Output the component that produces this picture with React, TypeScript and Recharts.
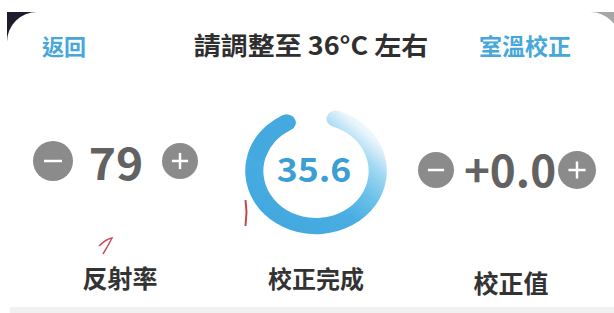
import { RadialBarChart, RadialBar, PolarAngleAxis } from 'recharts';

// calibration screen values
const headerLabels = ['返回', '請調整至 36°C 左右', '室溫校正'];
const reflectivity = 79;
const measuredTemp = 35.6;
const offsetValue = '+0.0';
const bottomLabels = ['反射率', '校正完成', '校正值'];
// ring: full progress, with the solid head segment drawn on top
const progress = [{ name: '校正完成', value: 100 }];
const headSegment = [{ name: 'head', value: 18 }];

const FONT = '"Noto Sans CJK TC", "Noto Sans", sans-serif';
const BLUE = '#46a7da';

function Txt({ x, y, size, color, weight = 700, sx = 1, children }: any) {
  return (
    <div
      style={{
        position: 'absolute',
        left: x,
        top: y,
        transform: `translate(-50%, -50%) scaleX(${sx})`,
        fontFamily: FONT,
        fontSize: size,
        fontWeight: weight,
        color,
        whiteSpace: 'nowrap',
        lineHeight: 1,
      }}
    >
      {children}
    </div>
  );
}

function RoundBtn({ x, y, r, plus }: { x: number; y: number; r: number; plus?: boolean }) {
  return (
    <svg
      width={r * 2}
      height={r * 2}
      style={{ position: 'absolute', left: x - r, top: y - r }}
    >
      <circle cx={r} cy={r} r={r} fill="#8b8b8b" />
      <line x1={r - r * 0.45} y1={r} x2={r + r * 0.45} y2={r} stroke="#fff" strokeWidth={2.5} />
      {plus && <line x1={r} y1={r - r * 0.45} x2={r} y2={r + r * 0.45} stroke="#fff" strokeWidth={2.5} />}
    </svg>
  );
}

function Ring({ data, fill }: { data: any[]; fill: string }) {
  return (
    <div
      style={{
        position: 'absolute',
        left: 316 - 65,
        top: 171 - 65,
        width: 130,
        height: 130,
        transform: 'scaleX(1.12)',
        transformOrigin: 'center',
      }}
    >
      <RadialBarChart
        width={130}
        height={130}
        cx={65}
        cy={65}
        innerRadius={46}
        outerRadius={64}
        barSize={18}
        data={data}
        startAngle={110}
        endAngle={440}
        margin={{ top: 0, right: 0, bottom: 0, left: 0 }}
      >
        <defs>
          <linearGradient id="ringGrad" x1="0" y1="1" x2="1" y2="0">
            <stop offset="0%" stopColor="#3ea5dd" />
            <stop offset="45%" stopColor="#4aaee2" />
            <stop offset="60%" stopColor="#6ec2ea" />
            <stop offset="73%" stopColor="#a3d9f2" />
            <stop offset="84%" stopColor="#eaf6fc" />
            <stop offset="100%" stopColor="#ffffff" />
          </linearGradient>
        </defs>
        <PolarAngleAxis type="number" domain={[0, 100]} tick={false} axisLine={false} />
        <RadialBar dataKey="value" fill={fill} cornerRadius={9} isAnimationActive={false} />
      </RadialBarChart>
    </div>
  );
}

export default function App() {
  return (
    <div
      style={{
        position: 'absolute',
        left: 0,
        top: 0,
        width: 614,
        height: 313,
        overflow: 'hidden',
        background: '#ffffff',
      }}
    >
      {/* device frame corners */}
      <div style={{ position: 'absolute', left: 7, top: 12, width: 50, height: 50, background: '#1d1c2c' }} />
      <div style={{ position: 'absolute', left: 585, top: 12, width: 40, height: 40, background: '#a6a6a6' }} />
      <div
        style={{
          position: 'absolute',
          left: 7,
          top: 12,
          width: 613,
          height: 340,
          borderRadius: 30,
          background: '#ffffff',
        }}
      />
      <div style={{ position: 'absolute', left: 10, top: 307, width: 604, height: 6, background: '#f1f1f1' }} />

      <Txt x={64} y={45} size={22} color={BLUE}>{headerLabels[0]}</Txt>
      <Txt x={311} y={44} size={25} color="#2f2f2f" sx={1.08}>{headerLabels[1]}</Txt>
      <Txt x={525} y={45} size={23} color={BLUE}>{headerLabels[2]}</Txt>

      {/* left: reflectivity */}
      <RoundBtn x={53} y={161} r={20} />
      <Txt x={116} y={161} size={44} color="#626262" sx={1.05}>{reflectivity}</Txt>
      <RoundBtn x={180} y={161} r={18} plus />

      {/* middle gauge */}
      <Ring data={progress} fill="url(#ringGrad)" />
      <Ring data={headSegment} fill="#43a9df" />
      <Txt x={314} y={168} size={33} color="#3b9fd6" sx={1.08}>{measuredTemp}</Txt>

      {/* right: offset */}
      <RoundBtn x={436} y={170} r={18} />
      <Txt x={510} y={168} size={44} color="#626262">{offsetValue}</Txt>
      <RoundBtn x={577} y={170} r={19} plus />

      {/* handwritten marks */}
      <svg width={614} height={313} style={{ position: 'absolute', left: 0, top: 0 }}>
        <path d="M245.5 200 L246.5 212 L245.5 226" stroke="#c9474a" strokeWidth={2} fill="none" />
        <path d="M99 246 Q106 239 112 238 Q108 246 103 254" stroke="#c94a5a" strokeWidth={1.5} fill="none" />
      </svg>

      <Txt x={120} y={277} size={25} color="#333">{bottomLabels[0]}</Txt>
      <Txt x={316} y={278} size={24} color="#333">{bottomLabels[1]}</Txt>
      <Txt x={511} y={282} size={25} color="#333">{bottomLabels[2]}</Txt>
    </div>
  );
}
